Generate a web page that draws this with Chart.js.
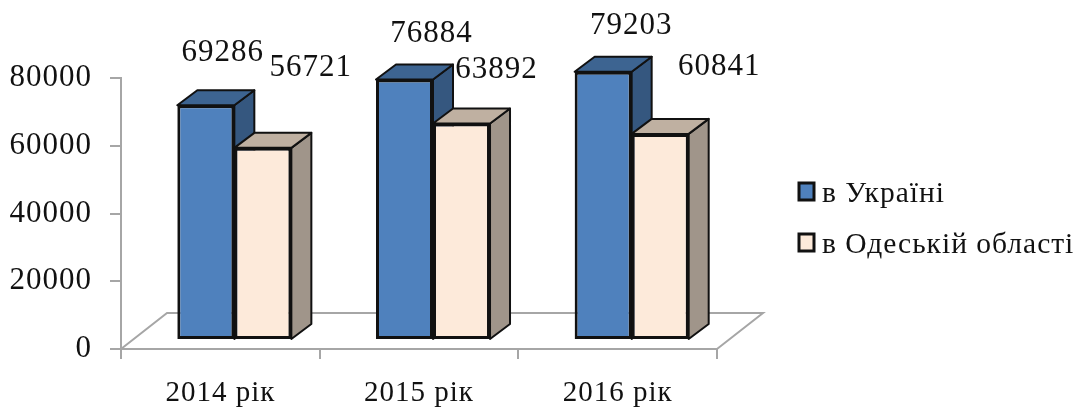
<!DOCTYPE html>
<html>
<head>
<meta charset="utf-8">
<style>
  html, body { margin: 0; padding: 0; background: #fff; }
  canvas { display: block; }
</style>
<script src="https://cdn.jsdelivr.net/npm/chart.js@4"></script>
</head>
<body>
<canvas id="chart" width="1075" height="412"></canvas>
<script>
const categories = ['2014 рік', '2015 рік', '2016 рік'];
const ukraine = [69286, 76884, 79203];
const odesa = [56721, 63892, 60841];
const seriesNames = ['в Україні', 'в Одеській області'];
const yTicks = [0, 20000, 40000, 60000, 80000];

const FONT = '"Liberation Serif", "Times New Roman", serif';
const depthX = 20, depthY = 15;     // глубина 3D
const shiftX = 14, shiftY = -9;     // столбцы стоят посреди пола

// подписи значений в оригинале стоят вручную, сдвиг от верхней середины столбца
const labelOffsets = [
  [[17, -52], [27, -46], [28, -46]],
  [[48, -80], [35, -54], [59, -67]]
];
const faceColors = [
  { top: '#3D6491', side: '#35577F' },
  { top: '#BFB0A1', side: '#A0958A' }
];

function face(ctx, pts, fill) {
  ctx.beginPath();
  pts.forEach((p, i) => i ? ctx.lineTo(p[0], p[1]) : ctx.moveTo(p[0], p[1]));
  ctx.closePath();
  ctx.fillStyle = fill;
  ctx.fill();
  ctx.strokeStyle = '#111';
  ctx.lineWidth = 2;
  ctx.lineJoin = 'round';
  ctx.stroke();
}

const fake3d = {
  id: 'fake3d',
  beforeDraw(chart) {
    chart.ctx.letterSpacing = '1px';
  },
  beforeDatasetsDraw(chart) {
    const ctx = chart.ctx, a = chart.chartArea;
    // пол
    ctx.save();
    ctx.strokeStyle = '#A6A6A6';
    ctx.lineWidth = 2;
    ctx.beginPath();
    ctx.moveTo(a.left, a.bottom);
    ctx.lineTo(a.left + 46, a.bottom - 36);
    ctx.lineTo(a.right + 46, a.bottom - 36);
    ctx.lineTo(a.right, a.bottom);
    ctx.stroke();
    ctx.restore();
  },
  // свой порядок: синие снизу, иначе их бок закроет верх кремовых
  beforeDatasetDraw() {
    return false;
  },
  afterDatasetsDraw(chart) {
    const ctx = chart.ctx;
    ctx.save();
    ctx.translate(shiftX, shiftY);
    chart.data.datasets.forEach((ds, i) => {
      const c = faceColors[i];
      chart.getDatasetMeta(i).data.forEach(bar => {
        const l = bar.x - bar.width / 2, r = bar.x + bar.width / 2;
        face(ctx, [[r, bar.y], [r + depthX, bar.y - depthY], [r + depthX, bar.base - depthY], [r, bar.base]], c.side);
        face(ctx, [[l, bar.y], [l + depthX, bar.y - depthY], [r + depthX, bar.y - depthY], [r, bar.y]], c.top);
        bar.draw(ctx);
      });
    });
    ctx.restore();
    // подписи значений
    ctx.save();
    ctx.font = '31px ' + FONT;
    ctx.fillStyle = '#111';
    ctx.textAlign = 'center';
    ctx.textBaseline = 'middle';
    chart.data.datasets.forEach((ds, i) => {
      chart.getDatasetMeta(i).data.forEach((bar, j) => {
        const off = labelOffsets[i][j];
        ctx.fillText(ds.data[j], bar.x + shiftX + off[0], bar.y + shiftY + off[1]);
      });
    });
    // легенда
    const rows = [192, 243];
    ctx.textAlign = 'left';
    ctx.font = '29.5px ' + FONT;
    chart.data.datasets.forEach((ds, i) => {
      ctx.fillStyle = ds.backgroundColor;
      ctx.strokeStyle = '#111';
      ctx.lineWidth = 3;
      ctx.fillRect(799, rows[i] - 9, 15, 17);
      ctx.strokeRect(799, rows[i] - 9, 15, 17);
      ctx.fillStyle = '#111';
      ctx.fillText(ds.label, 822, rows[i] + 2);
    });
    ctx.restore();
  }
};

new Chart(document.getElementById('chart'), {
  type: 'bar',
  data: {
    labels: categories,
    datasets: [
      { label: seriesNames[0], data: ukraine, backgroundColor: '#4F81BD' },
      { label: seriesNames[1], data: odesa, backgroundColor: '#FDEADA' }
    ]
  },
  options: {
    responsive: false,
    animation: false,
    layout: { padding: { top: 78, right: 358 } },
    datasets: {
      bar: {
        borderColor: '#111',
        borderWidth: 3,
        borderSkipped: false,
        categoryPercentage: 0.574,
        barPercentage: 1,
        clip: false
      }
    },
    plugins: { legend: { display: false }, title: { display: false }, tooltip: { enabled: false } },
    scales: {
      x: {
        afterFit: s => { s.height = 63; },
        border: { color: '#A6A6A6', width: 2 },
        grid: { color: '#A6A6A6', lineWidth: 2, drawOnChartArea: false, tickLength: 10 },
        ticks: { color: '#111', font: { family: FONT, size: 29 }, padding: 17, maxRotation: 0 }
      },
      y: {
        min: 0,
        max: 80000,
        afterFit: s => { s.width = 121; },
        afterBuildTicks: s => { s.ticks = yTicks.map(v => ({ value: v })); },
        border: { color: '#A6A6A6', width: 2 },
        grid: { color: '#A6A6A6', lineWidth: 2, drawOnChartArea: false, tickLength: 11 },
        ticks: { color: '#111', font: { family: FONT, size: 31 }, padding: 18, callback: v => String(v) }
      }
    }
  },
  plugins: [fake3d]
});
</script>
</body>
</html>
